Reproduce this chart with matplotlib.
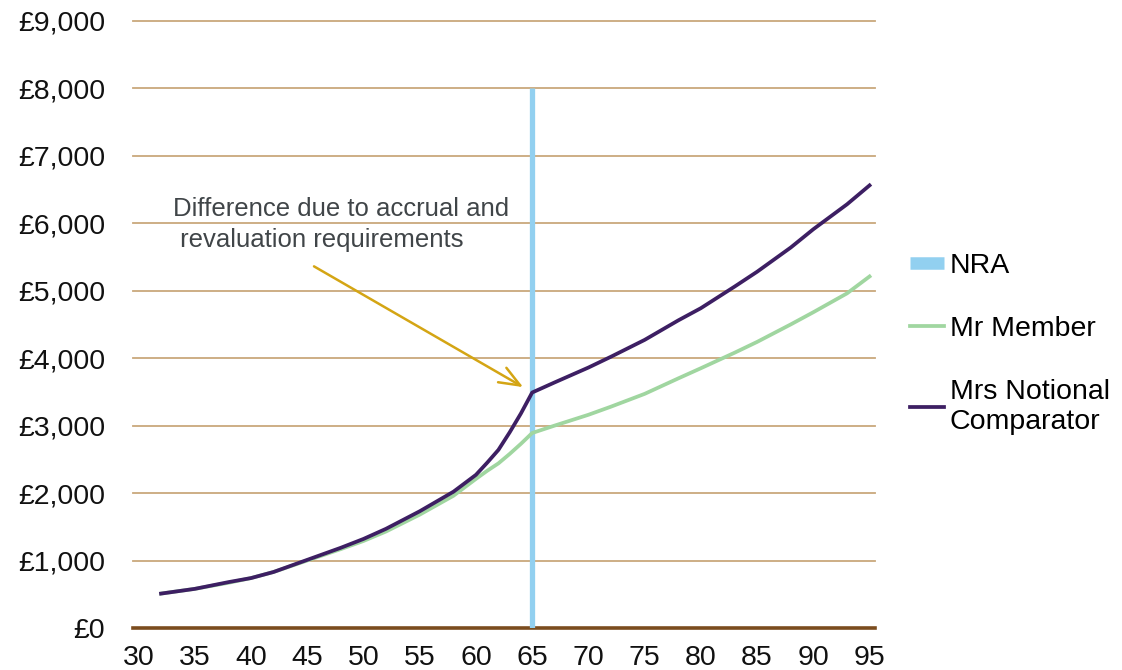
"""Pension comparison chart: Mr Member vs Mrs Notional Comparator."""
import matplotlib
matplotlib.use("Agg")
import matplotlib.pyplot as plt
from matplotlib.lines import Line2D

plt.rcParams["font.family"] = ["Liberation Sans", "DejaVu Sans"]

# ages and annual pension amounts (GBP)
ages = [32, 35, 38, 40, 42, 45, 48, 50, 52, 55, 58, 60, 61, 62, 63, 64, 65,
        67, 70, 72, 75, 78, 80, 83, 85, 88, 90, 93, 95]
mr_member = [510, 580, 670, 740, 830, 1000, 1170, 1290, 1430, 1680, 1960, 2210,
             2330, 2440, 2580, 2730, 2890,
             3000, 3160, 3280, 3470, 3700, 3850, 4080, 4240, 4500, 4680, 4960, 5210]
mrs_notional = [510, 580, 680, 740, 830, 1010, 1190, 1320, 1470, 1730, 2020, 2270,
                2450, 2640, 2900, 3180, 3490,
                3640, 3860, 4020, 4270, 4560, 4740, 5060, 5280, 5640, 5910, 6280, 6560]

nra_age = 65
nra_top = 8000

x_ticks = list(range(30, 96, 5))
y_ticks = list(range(0, 9001, 1000))

fig = plt.figure(figsize=(11.22, 6.70), dpi=100)
ax = fig.add_axes([0.1185, 0.0627, 0.6615, 0.9063])

grid_col = "#c9a87c"
for v in y_ticks[1:]:
    ax.axhline(v, color=grid_col, lw=1.3, zorder=1, clip_on=False)
ax.axhline(0, color="#7b4c1e", lw=2.6, zorder=2, clip_on=False)

ax.plot([nra_age, nra_age], [0, nra_top], color="#92d0f0", lw=3.8,
        solid_capstyle="butt", zorder=3)
ax.plot(ages, mr_member, color="#a0d6a0", lw=2.7, zorder=4)
ax.plot(ages, mrs_notional, color="#3d1f63", lw=2.7, zorder=5)

ax.set_xlim(29.5, 95.5)
ax.set_ylim(0, 9000)
ax.set_xticks(x_ticks)
ax.set_yticks(y_ticks)
ax.set_yticklabels([f"£{v:,}" for v in y_ticks])
ax.tick_params(axis="y", length=0, pad=20, labelsize=20.5, colors="#111111")
ax.tick_params(axis="x", length=0, pad=12, labelsize=20.5, colors="#111111")
for s in ax.spines.values():
    s.set_visible(False)

ax.text(33.1, 6390, "Difference due to accrual and\n revaluation requirements",
        ha="left", va="top", fontsize=18.5, color="#404548", linespacing=1.4)
ax.annotate("", xy=(64.2, 3570), xytext=(45.6, 5360),
            arrowprops=dict(arrowstyle="->,head_length=1.5,head_width=0.6",
                            color="#d4a514", lw=1.8, shrinkA=0, shrinkB=0))

handles = [
    Line2D([], [], color="#92d0f0", lw=9, solid_capstyle="butt"),
    Line2D([], [], color="#a0d6a0", lw=2.7),
    Line2D([], [], color="#3d1f63", lw=2.7),
]
labels = ["NRA", "Mr Member", "Mrs Notional\nComparator"]
fig.legend(handles, labels, loc="upper left", bbox_to_anchor=(0.801, 0.64),
           frameon=False, fontsize=20.5, handlelength=1.2, handletextpad=0.2,
           labelspacing=1.3, borderaxespad=0)

fig.savefig("out.png", dpi=100)
